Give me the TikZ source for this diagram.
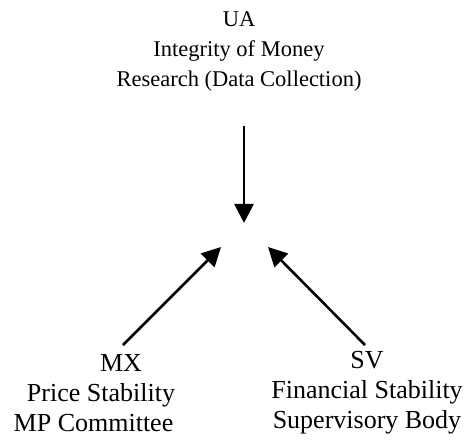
\documentclass[tikz,border=0pt]{standalone}
\usepackage{fontspec}
\setmainfont{Liberation Serif}
\usetikzlibrary{arrows.meta}
\begin{document}
\begin{tikzpicture}[x=1bp,y=-1bp,
  label text/.style={align=center, inner sep=0pt},
  top text/.style={label text, font=\fontsize{22.5bp}{30bp}\selectfont},
  low text/.style={label text, font=\fontsize{26bp}{30bp}\selectfont},
  flow/.style={line width=2.6bp, -{Triangle[length=19bp,width=19bp]}}]
  \useasboundingbox (0,0) rectangle (472,441);
  % the three areas
  \node[top text] (ua) at (239,51) {UA\\Integrity of Money\\Research (Data Collection)};
  \node[low text] (mx) at (101,393) {\hspace*{40bp}MX\\Price Stability\\MP Committee\hspace*{15bp}};
  \node[low text] (sv) at (367,393) {SV\\Financial Stability\\Supervisory Body};
  % arrow ends around the meeting point
  \coordinate (uafrom) at (244,126);
  \coordinate (uato)   at (244,223);
  \coordinate (mxfrom) at (123,345);
  \coordinate (mxto)   at (221,247);
  \coordinate (svfrom) at (365,345);
  \coordinate (svto)   at (268,247);
  \draw[flow] (uafrom) -- (uato);
  \draw[flow] (mxfrom) -- (mxto);
  \draw[flow] (svfrom) -- (svto);
\end{tikzpicture}
\end{document}
